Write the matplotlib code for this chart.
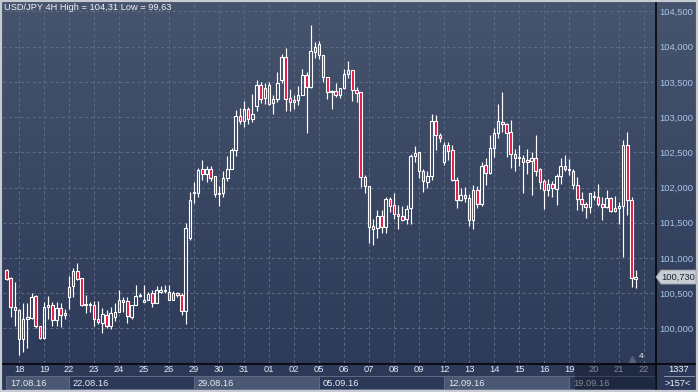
import numpy as np
import matplotlib
matplotlib.use("Agg")
import matplotlib.pyplot as plt
import matplotlib.colors as mcolors
import matplotlib.transforms as mtransforms
from matplotlib.patches import Rectangle, Polygon
from matplotlib.lines import Line2D
from matplotlib.ticker import FuncFormatter

plt.rcParams['font.family'] = ['Liberation Sans', 'DejaVu Sans']

# USD/JPY 4H candles, 17.08.16 - 21.09.16
opens = [100.83, 100.71, 100.30, 100.26, 99.85, 100.14, 100.15, 100.46, 100.03, 99.87,
         100.31, 100.33, 100.12, 100.29, 100.19, 100.44, 100.60, 100.81, 100.71, 100.34,
         100.35, 100.33, 100.14, 100.08, 100.19, 100.04, 100.17, 100.24, 100.41, 100.39,
         100.17, 100.33, 100.46, 100.38, 100.40, 100.51, 100.36, 100.52, 100.53, 100.52,
         100.41, 100.50, 100.47, 100.25, 101.28, 101.93, 101.92, 102.26, 102.19, 102.26,
         102.17, 101.91, 101.92, 102.14, 102.27, 102.53, 103.02, 102.95, 103.12, 102.98,
         103.16, 103.46, 103.27, 103.46, 103.20, 103.26, 103.52, 103.85, 103.27, 103.22,
         103.24, 103.32, 103.60, 103.43, 103.93, 104.04, 103.88, 103.57, 103.36, 103.37,
         103.31, 103.41, 103.61, 103.67, 103.39, 103.35, 102.15, 102.02, 101.45, 101.42,
         101.60, 101.44, 101.84, 101.75, 101.62, 101.60, 101.55, 101.71, 102.45, 102.50,
         102.24, 102.08, 102.16, 102.94, 102.75, 102.36, 102.61, 102.54, 102.11, 101.82,
         101.90, 101.85, 101.54, 101.97, 101.77, 102.32, 102.20, 102.56, 102.78, 102.93,
         102.90, 102.79, 102.47, 102.42, 102.42, 102.39, 102.38, 102.42, 102.26, 102.09,
         101.97, 102.05, 101.98, 102.17, 102.31, 102.26, 102.24, 102.04, 101.84, 101.76,
         101.72, 101.86, 101.86, 101.76, 101.73, 101.85, 101.67, 101.71, 101.74, 102.61,
         101.83, 100.70]
highs = [100.85, 100.73, 100.66, 100.27, 100.36, 100.36, 100.51, 100.48, 100.04, 100.37,
         100.46, 100.37, 100.37, 100.36, 100.27, 100.74, 100.86, 100.93, 100.72, 100.48,
         100.37, 100.39, 100.39, 100.29, 100.26, 100.30, 100.36, 100.54, 100.45, 100.45,
         100.34, 100.62, 100.50, 100.62, 100.52, 100.55, 100.60, 100.60, 100.62, 100.62,
         100.53, 100.52, 100.51, 101.50, 101.94, 102.08, 102.28, 102.39, 102.31, 102.31,
         102.17, 102.02, 102.24, 102.45, 102.56, 103.10, 103.13, 103.23, 103.14, 103.33,
         103.53, 103.50, 103.48, 103.50, 103.32, 103.64, 103.89, 103.98, 103.40, 103.32,
         103.44, 103.68, 103.64, 104.31, 104.06, 104.08, 103.88, 103.57, 103.39, 103.48,
         103.42, 103.69, 103.80, 103.67, 103.43, 103.36, 102.18, 102.02, 101.55, 101.68,
         101.68, 101.86, 101.86, 101.92, 101.75, 101.74, 101.75, 102.48, 102.59, 102.50,
         102.26, 102.23, 103.04, 103.03, 102.78, 102.65, 102.65, 102.60, 102.15, 102.00,
         102.01, 101.91, 102.04, 102.02, 102.36, 102.42, 102.75, 102.85, 103.19, 103.35,
         102.91, 102.96, 102.55, 102.61, 102.46, 102.55, 102.50, 102.75, 102.28, 102.12,
         102.12, 102.09, 102.19, 102.42, 102.46, 102.41, 102.26, 102.15, 101.94, 101.80,
         101.93, 101.95, 102.05, 101.86, 101.96, 101.87, 101.88, 101.80, 102.68, 102.79,
         101.86, 100.83]
lows = [100.69, 100.16, 100.03, 99.63, 99.66, 99.72, 100.13, 100.00, 99.85, 99.85,
        100.13, 100.03, 100.04, 100.02, 100.14, 100.27, 100.44, 100.69, 100.32, 100.22,
        100.24, 100.04, 100.06, 99.93, 100.00, 99.99, 100.10, 100.24, 100.24, 100.08,
        100.14, 100.33, 100.44, 100.38, 100.40, 100.30, 100.36, 100.51, 100.51, 100.40,
        100.40, 100.45, 100.19, 100.06, 101.26, 101.78, 101.87, 102.11, 102.08, 102.09,
        101.86, 101.74, 101.87, 102.09, 102.27, 102.45, 102.90, 102.86, 102.90, 102.93,
        103.09, 103.20, 103.18, 103.17, 103.05, 103.21, 103.49, 103.09, 103.09, 103.12,
        103.17, 103.31, 102.78, 103.42, 103.84, 103.83, 103.50, 103.26, 103.12, 103.28,
        103.27, 103.40, 103.56, 103.23, 103.22, 102.01, 101.92, 101.22, 101.18, 101.29,
        101.35, 101.35, 101.66, 101.56, 101.41, 101.53, 101.49, 101.49, 102.37, 102.13,
        101.94, 102.00, 102.11, 102.54, 102.65, 102.32, 102.39, 102.10, 101.71, 101.81,
        101.79, 101.45, 101.41, 101.71, 101.74, 102.04, 102.19, 102.43, 102.71, 102.79,
        102.44, 102.28, 102.23, 102.31, 101.93, 102.19, 101.89, 102.17, 101.98, 101.70,
        101.88, 101.86, 101.75, 102.05, 102.24, 102.18, 101.98, 101.68, 101.67, 101.57,
        101.64, 101.82, 101.74, 101.54, 101.71, 101.65, 101.66, 101.49, 101.01, 101.61,
        100.59, 100.57]
closes = [100.70, 100.31, 100.26, 99.85, 100.14, 100.17, 100.44, 100.03, 99.87, 100.30,
          100.33, 100.12, 100.29, 100.19, 100.22, 100.59, 100.81, 100.70, 100.34, 100.35,
          100.34, 100.13, 100.09, 100.21, 100.04, 100.22, 100.24, 100.40, 100.37, 100.18,
          100.33, 100.46, 100.47, 100.40, 100.49, 100.36, 100.55, 100.55, 100.54, 100.41,
          100.51, 100.47, 100.25, 101.42, 101.83, 101.94, 102.25, 102.19, 102.26, 102.14,
          101.91, 101.92, 102.14, 102.27, 102.53, 103.02, 102.95, 103.12, 102.98, 103.05,
          103.46, 103.26, 103.42, 103.19, 103.26, 103.49, 103.85, 103.26, 103.22, 103.24,
          103.32, 103.60, 103.43, 103.94, 103.99, 103.88, 103.57, 103.36, 103.37, 103.31,
          103.41, 103.61, 103.67, 103.38, 103.34, 102.15, 102.02, 101.44, 101.41, 101.60,
          101.44, 101.84, 101.74, 101.62, 101.59, 101.54, 101.69, 102.45, 102.49, 102.24,
          102.09, 102.16, 102.94, 102.75, 102.70, 102.61, 102.52, 102.11, 101.82, 101.90,
          101.85, 101.54, 101.97, 101.77, 102.31, 102.20, 102.56, 102.78, 102.94, 102.90,
          102.78, 102.47, 102.42, 102.43, 102.36, 102.36, 102.42, 102.23, 102.08, 101.97,
          102.05, 102.00, 102.17, 102.31, 102.27, 102.25, 102.04, 101.84, 101.76, 101.72,
          101.92, 101.88, 101.77, 101.73, 101.85, 101.67, 101.71, 101.74, 102.61, 101.83,
          100.71, 100.73]

day_labels = ['18', '19', '22', '23', '24', '25', '26', '29', '30', '31', '01', '02', '05',
              '06', '07', '08', '09', '12', '13', '14', '15', '16', '19', '20', '21', '22']
week_labels = ['17.08.16', '22.08.16', '29.08.16', '05.09.16', '12.09.16', '19.09.16']
price_ticks = [100.0, 100.5, 101.0, 101.5, 102.0, 102.5, 103.0, 103.5, 104.0, 104.5]
bars_per_day = 6
first_day_bar = 3      # 17.08 shows 3 bars before the 18th
last_price = closes[-1]
bar_count_text = '1337'
scroll_text = '>157<'

W, H = 698, 392
BG_TOP, BG_BOT = '#47546d', '#2b3857'
RED = '#e8143e'


def fx(x):
    return x / W


def fy(y):
    return 1 - y / H


fig = plt.figure(figsize=(W / 100, H / 100), dpi=100)

# gradient background over the whole figure
bg = fig.add_axes([0, 0, 1, 1], zorder=-10)
grad = np.linspace(0, 1, 256).reshape(-1, 1)
bg.imshow(grad, aspect='auto', extent=[0, 1, 0, 1],
          cmap=mcolors.LinearSegmentedColormap.from_list('bg', [BG_TOP, BG_BOT]))
bg.axis('off')

ax = fig.add_axes([fx(3), fy(363), (655 - 3) / W, (363 - 3) / H])
ax.set_facecolor('none')
for s in ax.spines.values():
    s.set_visible(False)

o = np.array(opens)
c = np.array(closes)
hi = np.array(highs)
lo = np.array(lows)
x = np.arange(len(o))
body_lo = np.minimum(o, c)
body_hi = np.maximum(o, c)
faces = ['none' if cc >= oo else RED for oo, cc in zip(o, c)]

ax.vlines(x, lo, body_lo, color='white', linewidth=0.85, zorder=3)
ax.vlines(x, body_hi, hi, color='white', linewidth=0.85, zorder=3)
ax.bar(x, np.maximum(body_hi - body_lo, 0.006), bottom=body_lo, width=0.6,
       color=faces, edgecolor='white', linewidth=0.8, zorder=4)

day_pos = [first_day_bar + bars_per_day * k for k in range(len(day_labels))]
ax.set_xlim(-0.84, 155.64)
ax.set_ylim(99.51, 104.62)
ax.set_xticks(day_pos)
ax.set_xticklabels(day_labels)
ax.set_yticks(price_ticks)
ax.yaxis.set_major_formatter(FuncFormatter(lambda v, p: f'{v:.3f}'.replace('.', ',')))
ax.yaxis.tick_right()
ax.grid(True, color='#5f6c88', linestyle=(0, (3, 3)), linewidth=0.7, zorder=1)
ax.set_axisbelow(True)
ax.tick_params(axis='x', length=0, pad=1.8, labelcolor='#e6eaf2', labelsize=6.7)
ax.tick_params(axis='y', length=0, pad=3, labelcolor='#a9c6ea', labelsize=6.7)

# title with range from data
hi_txt = f'{max(highs):.2f}'.replace('.', ',')
lo_txt = f'{min(lows):.2f}'.replace('.', ',')
fig.text(fx(4), fy(8), f'USD/JPY 4H High = {hi_txt} Low = {lo_txt}',
         color='#f2f4f8', fontsize=6.7, va='center', ha='left')

# week boxes under the day labels
tr = mtransforms.blended_transform_factory(ax.transData, fig.transFigure)
week_starts = [-0.1] + [first_day_bar + 12 + 30 * k for k in range(len(week_labels) - 1)]
week_ends = week_starts[1:] + [155.64]
for k, (ws, we, lab) in enumerate(zip(week_starts, week_ends, week_labels)):
    light = (k % 2 == 0)
    fig.add_artist(Rectangle((ws, fy(389)), we - ws, (389 - 376) / H, transform=tr,
                             facecolor='#4b5873' if light else 'none',
                             edgecolor='#5f6b86', linewidth=0.7, zorder=2))
    fig.text(ws + 0.9, fy(383), lab, transform=tr, color='#e6eaf2',
             fontsize=6.7, va='center', ha='left', zorder=3)

# dim overlay on the right end of the time axis
fig.add_artist(Rectangle((fx(575), fy(390)), fx(655) - fx(575), (390 - 364) / H,
                         transform=fig.transFigure, facecolor='#101828', alpha=0.45,
                         edgecolor='none', zorder=6))

# separators and outer frame
fig.add_artist(Line2D([fx(655.5), fx(655.5)], [fy(0), fy(390)], color='black', lw=1.1, zorder=7))
fig.add_artist(Line2D([fx(0), fx(698)], [fy(363.5), fy(363.5)], color='black', lw=1.1, zorder=7))
fig.add_artist(Rectangle((0, 0), 1, 1, transform=fig.transFigure, facecolor='none',
                         edgecolor='#c6cad2', linewidth=3, zorder=8))

# last price marker
yp = H - ax.transData.transform((0, last_price))[1]
fig.add_artist(Polygon([(fx(656), fy(yp)), (fx(661), fy(yp - 7)), (fx(696), fy(yp - 7)),
                        (fx(696), fy(yp + 7)), (fx(661), fy(yp + 7))],
                       closed=True, transform=fig.transFigure, facecolor='#c9cdd4',
                       edgecolor='#9aa0aa', linewidth=0.6, zorder=9))
fig.text(fx(678), fy(yp), f'{last_price:.3f}'.replace('.', ','), color='#1c2333',
         fontsize=6.7, ha='center', va='center', zorder=10)

# bottom-right counter box
fig.text(fx(679), fy(369), bar_count_text, color='#eef1f6', fontsize=6.7, ha='center', va='center')
fig.add_artist(Line2D([fx(664), fx(694)], [fy(376), fy(376)], color='#8c96a8', lw=0.7))
fig.text(fx(678), fy(384), scroll_text, color='#eef1f6', fontsize=6.7, ha='center', va='center')

# small marker near the last bar
fig.text(fx(641), fy(357), '4', color='#eef1f6', fontsize=6, ha='center', va='center')
fig.add_artist(Line2D([fx(632)], [fy(359)], marker='^', markersize=4, color='#55607a',
                      linestyle='none'))

fig.savefig('out.png', dpi=100)
